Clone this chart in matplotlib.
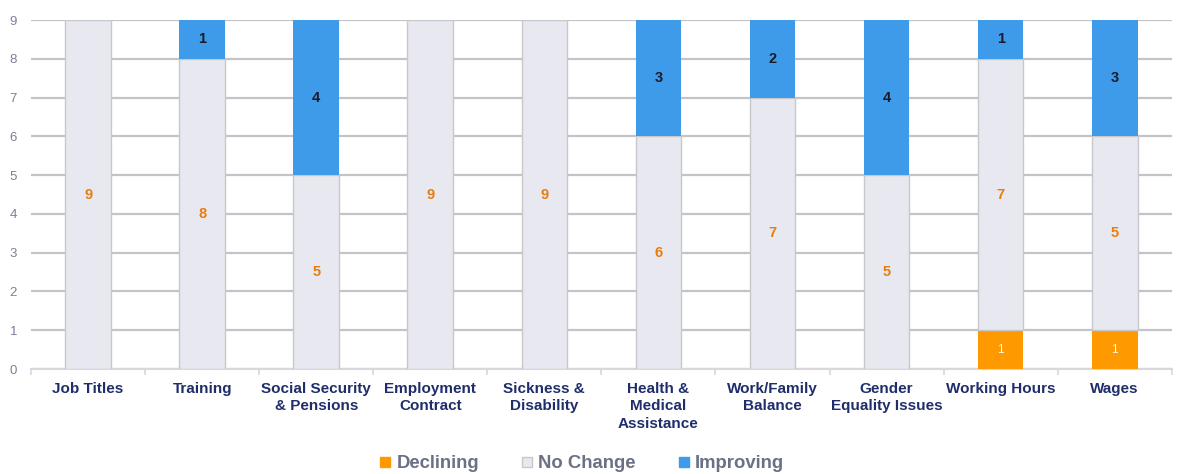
import numpy as np
import matplotlib.pyplot as plt
from matplotlib.lines import Line2D

categories = ["Job Titles", "Training", "Social Security\n& Pensions", "Employment\nContract",
              "Sickness &\nDisability", "Health &\nMedical\nAssistance", "Work/Family\nBalance",
              "Gender\nEquality Issues", "Working Hours", "Wages"]
declining = [0, 0, 0, 0, 0, 0, 0, 0, 1, 1]
no_change = [9, 8, 5, 9, 9, 6, 7, 5, 7, 5]
improving = [0, 1, 4, 0, 0, 3, 2, 4, 1, 3]

c_dec = "#ff9900"
c_nc = "#e8e8f0"
c_imp = "#3d9be9"

plt.rcParams['font.family'] = ['Liberation Sans', 'DejaVu Sans']

fig = plt.figure(figsize=(11.8, 4.74), dpi=100)
ax = fig.add_axes([0.0263, 0.2215, 0.9667, 0.7363])

x = np.arange(len(categories))
dec = np.array(declining)
nc = np.array(no_change)
imp = np.array(improving)
w = 0.4

ax.bar(x, dec, w, color=c_dec, zorder=3)
ax.bar(x, nc, w, bottom=dec, color=c_nc, edgecolor="#c8c8cc", linewidth=1, zorder=3)
ax.bar(x, imp, w, bottom=dec + nc, color=c_imp, zorder=3)

for i in range(len(x)):
    if dec[i] > 0:
        ax.text(x[i], dec[i] / 2, str(dec[i]), ha="center", va="center",
                color="white", fontsize=8.5, zorder=4)
    if nc[i] > 0:
        ax.text(x[i], dec[i] + nc[i] / 2, str(nc[i]), ha="center", va="center",
                color="#e87d0d", fontsize=10.5, fontweight="bold", zorder=4)
    if imp[i] > 0:
        ax.text(x[i], dec[i] + nc[i] + imp[i] / 2, str(imp[i]), ha="center", va="center",
                color="#1a1a2a", fontsize=10.5, fontweight="bold", zorder=4)

ax.set_xlim(-0.5, len(x) - 0.5)
ax.set_ylim(0, 9)
ax.set_yticks(range(10))
ax.yaxis.grid(True, color="#c4c4c8", linewidth=1.6, zorder=0)
ax.tick_params(axis="y", length=0, labelsize=9.5, labelcolor="#7a7f9a", pad=10)

ax.set_xticks(x)
ax.set_xticklabels(categories, fontsize=11, fontweight="bold", color="#1f2d6b",
                   linespacing=1.35, va="top")
ax.set_xticks(np.arange(len(x) + 1) - 0.5, minor=True)
ax.tick_params(axis="x", which="major", length=0, pad=9)
ax.tick_params(axis="x", which="minor", length=4, color="#d8d8dc", width=1.2)

for s in ["top", "right", "left"]:
    ax.spines[s].set_visible(False)
ax.spines["bottom"].set_color("#d8d8dc")
ax.spines["bottom"].set_linewidth(1.5)

handles = [Line2D([], [], marker="s", linestyle="", markersize=7, color=c_dec),
           Line2D([], [], marker="s", linestyle="", markersize=7, color=c_nc,
                  markeredgecolor="#c8c8cc"),
           Line2D([], [], marker="s", linestyle="", markersize=7, color=c_imp)]
leg = fig.legend(handles, ["Declining", "No Change", "Improving"], loc="center",
                 bbox_to_anchor=(0.493, 0.022), ncol=3, frameon=False,
                 handlelength=0.6, handletextpad=0.3, columnspacing=2.3,
                 prop={"size": 13.3, "weight": "bold"})
for t in leg.get_texts():
    t.set_color("#6b7085")

fig.savefig("out.png", dpi=100)
